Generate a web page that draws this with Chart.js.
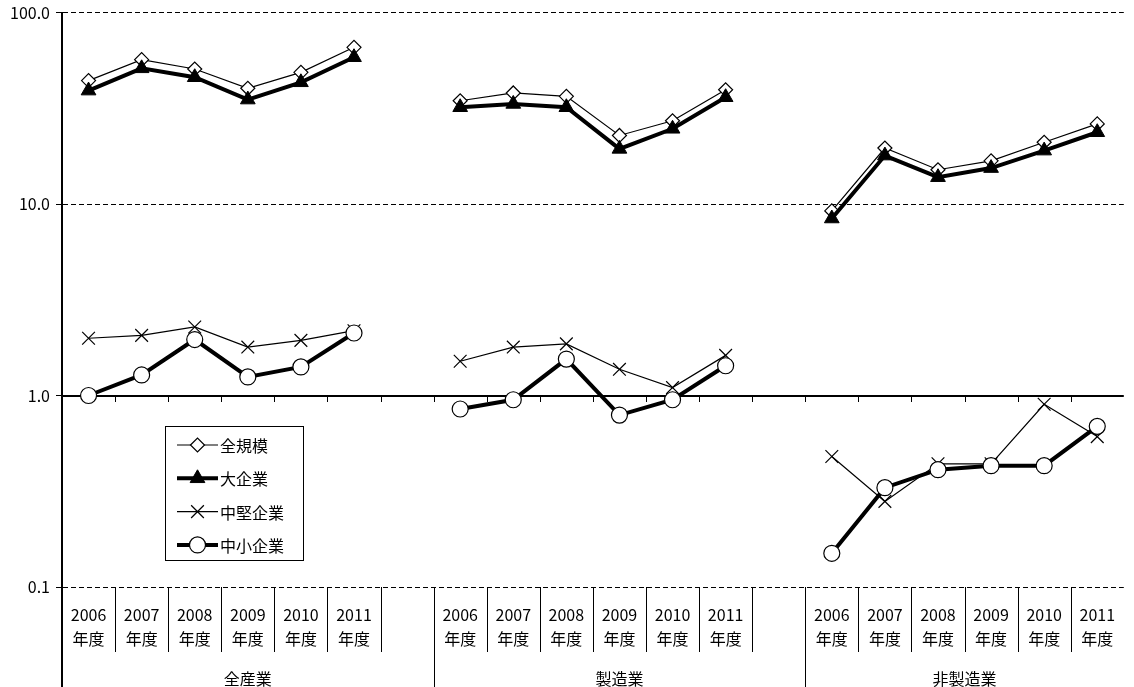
<!DOCTYPE html>
<html>
<head>
<meta charset="utf-8">
<script src="https://cdn.jsdelivr.net/npm/chart.js@4/dist/chart.umd.min.js"></script>
<style>
  body { margin: 0; background: #fff; }
  #wrap { width: 1134px; height: 687px; position: relative; }
</style>
</head>
<body>
<div id="wrap"><canvas id="myChart"></canvas></div>
<script>
// categories
var years = ['2006', '2007', '2008', '2009', '2010', '2011'];
var groups = ['全産業', '製造業', '非製造業'];
var yTicks = [0.1, 1, 10, 100];
var yTickLabels = ['0.1', '1.0', '10.0', '100.0'];

// values per series, 全産業 / 製造業 / 非製造業 x 2006-2011
var zenkibo = [44.1, 56.7, 50.7, 40.2, 48.7, 65.8,
               34.6, 38.0, 36.5, 22.8, 27.2, 39.5,
               9.2, 19.6, 15.1, 16.8, 21.0, 26.2];
var daikigyo = [39.1, 51.1, 45.9, 35.1, 43.2, 58.4,
                32.0, 33.3, 32.0, 19.4, 24.7, 36.1,
                8.4, 17.9, 13.8, 15.4, 19.0, 23.7];
var chuken = [1.99, 2.06, 2.28, 1.79, 1.94, 2.18,
              1.51, 1.79, 1.86, 1.37, 1.10, 1.62,
              0.48, 0.28, 0.44, 0.44, 0.90, 0.61];
var chusho = [1.00, 1.28, 1.96, 1.25, 1.41, 2.12,
              0.85, 0.95, 1.55, 0.79, 0.95, 1.43,
              0.15, 0.33, 0.41, 0.43, 0.43, 0.69];

// 6 year slots per group, with an empty slot between groups
var slotLabels = [];
var groupStart = [];
groups.forEach(function (g, gi) {
  groupStart.push(slotLabels.length);
  years.forEach(function (yr) { slotLabels.push([yr, '年度']); });
  if (gi < groups.length - 1) slotLabels.push('');
});

function toSlots(values) {
  var out = [];
  var i = 0;
  slotLabels.forEach(function (l) {
    out.push(l === '' ? null : values[i++]);
  });
  return out;
}

var FONT = "'Noto Sans CJK JP', 'Noto Sans', sans-serif";
Chart.defaults.font.family = FONT;
Chart.defaults.font.size = 16;
Chart.defaults.color = '#000';

// axis line at 1.0, category separators, group names and legend box
var frame = {
  id: 'frame',
  beforeDatasetsDraw: function (chart) {
    var ctx = chart.ctx, a = chart.chartArea;
    var x = chart.scales.x, y = chart.scales.y;
    var y1 = Math.round(y.getPixelForValue(1));
    ctx.save();
    ctx.strokeStyle = '#000';
    ctx.lineWidth = 2;
    ctx.beginPath();
    ctx.moveTo(a.left, y1);
    ctx.lineTo(a.right, y1);
    ctx.stroke();
    ctx.lineWidth = 1;
    ctx.beginPath();
    for (var k = 1; k < slotLabels.length; k++) {
      var px = Math.round(x.getPixelForValue(k - 0.5)) + 0.5;
      ctx.moveTo(px, y1);
      ctx.lineTo(px, y1 + 6);
    }
    ctx.stroke();
    ctx.restore();
  },
  afterDraw: function (chart) {
    var ctx = chart.ctx, a = chart.chartArea;
    var x = chart.scales.x;
    var H = chart.height;
    ctx.save();
    ctx.strokeStyle = '#000';
    ctx.lineWidth = 1;
    ctx.beginPath();
    for (var k = 1; k < slotLabels.length; k++) {
      var px = Math.round(x.getPixelForValue(k - 0.5)) + 0.5;
      var long = groupStart.indexOf(k) >= 0;
      ctx.moveTo(px, a.bottom);
      ctx.lineTo(px, long ? H : a.bottom + 65);
    }
    ctx.stroke();
    ctx.lineWidth = 2;
    ctx.beginPath();
    ctx.moveTo(a.left, a.bottom);
    ctx.lineTo(a.left, H);
    ctx.stroke();

    ctx.fillStyle = '#000';
    ctx.font = '16px ' + FONT;
    ctx.textAlign = 'center';
    ctx.textBaseline = 'middle';
    groups.forEach(function (g, gi) {
      var s = groupStart[gi];
      var e = gi + 1 < groups.length ? groupStart[gi + 1] : slotLabels.length;
      ctx.fillText(g, x.getPixelForValue((s + e) / 2 - 0.5), a.bottom + 92);
    });

    // legend
    var bx = 165.5, by = 426.5, bw = 138, bh = 134;
    ctx.fillStyle = '#fff';
    ctx.fillRect(bx, by, bw, bh);
    ctx.lineWidth = 1;
    ctx.strokeRect(bx, by, bw, bh);
    ctx.textAlign = 'left';
    chart.data.datasets.forEach(function (ds, i) {
      var ly = 445 + i * 33.3;
      ctx.strokeStyle = '#000';
      ctx.lineWidth = ds.borderWidth;
      ctx.beginPath();
      ctx.moveTo(177, ly);
      ctx.lineTo(218, ly);
      ctx.stroke();
      ctx.fillStyle = ds.pointBackgroundColor;
      ctx.strokeStyle = ds.pointBorderColor;
      ctx.lineWidth = ds.pointBorderWidth;
      Chart.helpers.drawPoint(ctx, {
        pointStyle: ds.pointStyle, radius: ds.pointRadius,
        borderWidth: ds.pointBorderWidth, rotation: 0
      }, 197.5, ly);
      ctx.fillStyle = '#000';
      ctx.fillText(ds.label, 220, ly + 1);
    });
    ctx.restore();
  }
};

var ctx = document.getElementById('myChart').getContext('2d');
var myChart = new Chart(ctx, {
  type: 'line',
  data: {
    labels: slotLabels,
    datasets: [{
      label: '全規模',
      data: toSlots(zenkibo),
      borderColor: '#000',
      borderWidth: 1.2,
      pointStyle: 'rectRot',
      pointRadius: 7,
      pointBackgroundColor: '#fff',
      pointBorderColor: '#000',
      pointBorderWidth: 1.2,
      order: 4
    }, {
      label: '大企業',
      data: toSlots(daikigyo),
      borderColor: '#000',
      borderWidth: 4,
      pointStyle: 'triangle',
      pointRadius: 8.5,
      pointBackgroundColor: '#000',
      pointBorderColor: '#000',
      pointBorderWidth: 1,
      order: 3
    }, {
      label: '中堅企業',
      data: toSlots(chuken),
      borderColor: '#000',
      borderWidth: 1.2,
      pointStyle: 'crossRot',
      pointRadius: 9,
      pointBackgroundColor: '#000',
      pointBorderColor: '#000',
      pointBorderWidth: 1.2,
      order: 2
    }, {
      label: '中小企業',
      data: toSlots(chusho),
      borderColor: '#000',
      borderWidth: 4,
      pointStyle: 'circle',
      pointRadius: 8,
      pointBackgroundColor: '#fff',
      pointBorderColor: '#000',
      pointBorderWidth: 1.2,
      order: 1
    }]
  },
  options: {
    responsive: true,
    maintainAspectRatio: false,
    animation: false,
    devicePixelRatio: 1,
    spanGaps: false,
    layout: { padding: { top: 12.5, right: 0, left: 0, bottom: 0 } },
    plugins: { legend: { display: false }, tooltip: { enabled: false } },
    elements: { line: { tension: 0 } },
    scales: {
      x: {
        type: 'category',
        offset: true,
        grid: { display: false },
        border: { display: false },
        ticks: {
          autoSkip: false,
          maxRotation: 0,
          padding: 8,
          font: { size: 16, lineHeight: 1.5 }
        },
        afterFit: function (s) { s.height = 100; }
      },
      y: {
        type: 'logarithmic',
        min: 0.1,
        max: 100,
        afterBuildTicks: function (s) {
          s.ticks = yTicks.map(function (v) { return { value: v }; });
        },
        ticks: {
          padding: 6,
          callback: function (v) { return yTickLabels[yTicks.indexOf(v)]; }
        },
        grid: {
          color: function (c) { return c.tick && c.tick.value === 1 ? 'rgba(0,0,0,0)' : '#000'; },
          tickColor: '#000',
          tickLength: 6,
          lineWidth: 1
        },
        border: { display: true, color: '#000', width: 2, dash: [5, 3] },
        afterFit: function (s) {
          s.width = 62;
          s.paddingTop = 0;
          s.paddingBottom = 0;
        }
      }
    }
  },
  plugins: [frame]
});
</script>
</body>
</html>
